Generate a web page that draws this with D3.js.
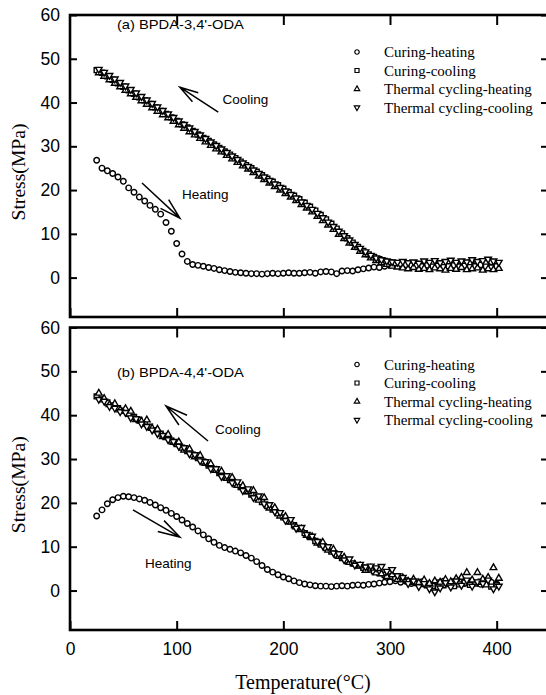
<!DOCTYPE html>
<html>
<head>
<meta charset="utf-8">
<script src="https://cdn.jsdelivr.net/npm/d3@7"></script>
<style>
  body { margin: 0; background: #fff; }
  svg { display: block; }
  .tick text { font-family: "Liberation Sans", Arial, sans-serif; font-size: 17.5px; fill: #000; }
  .tick line { stroke: #000; stroke-width: 2; }
  .note { font-family: "Liberation Sans", Arial, sans-serif; font-size: 13.5px; }
  .legend text { font-family: "Liberation Serif", "Times New Roman", serif; font-size: 15px; }
  .title { font-family: "Liberation Serif", "Times New Roman", serif; }
</style>
</head>
<body>
<svg id="chart" width="546" height="695"></svg>
<script>
// temperatures (°C) of the circle / square series
const tempsA = [25, 30, 35, 40, 45, 50, 55, 60, 65, 70, 75, 80, 85, 90, 95, 100, 105, 110, 115, 120,
  125, 130, 135, 140, 145, 150, 155, 160, 165, 170, 175, 180, 185, 190, 195, 200, 205, 210, 215, 220,
  225, 230, 235, 240, 245, 250, 255, 260, 265, 270, 275, 280, 285, 290, 295, 300, 305, 310, 315, 320,
  325, 330, 335, 340, 345, 350, 355, 360, 365, 370, 375, 380, 385, 390, 395, 400];
// temperatures (°C) of the thermal cycling series
const tempsB = [27, 32, 37, 42, 47, 52, 57, 62, 67, 72, 77, 82, 87, 92, 97, 102, 107, 112, 117, 122,
  127, 132, 137, 142, 147, 152, 157, 162, 167, 172, 177, 182, 187, 192, 197, 202, 207, 212, 217, 222,
  227, 232, 237, 242, 247, 252, 257, 262, 267, 272, 277, 282, 287, 292, 297, 302, 307, 312, 317, 322,
  327, 332, 337, 342, 347, 352, 357, 362, 367, 372, 377, 382, 387, 392, 397, 402];

// (a) BPDA-3,4'-ODA  stress (MPa)
const aCuringHeating = [26.8, 25.0, 24.4, 23.8, 23.0, 22.0, 20.5, 19.5, 18.4, 17.5, 16.5, 15.6, 14.5, 12.6, 10.6, 7.8, 5.4, 3.7, 3.0, 2.8,
  2.6, 2.3, 2.1, 1.8, 1.6, 1.4, 1.2, 1.1, 1.0, 0.9, 0.9, 0.8, 0.9, 1.0, 0.9, 1.0, 1.1, 1.0, 1.0, 1.1,
  1.2, 1.0, 1.3, 1.4, 1.3, 0.9, 1.5, 1.6, 1.5, 1.8, 2.0, 2.2, 2.4, 2.3, 2.6, 2.8, 3.0, 3.1, 3.0, 2.9,
  3.2, 2.8, 3.0, 3.3, 2.9, 3.1, 3.4, 3.0, 2.7, 3.2, 3.5, 3.0, 2.9, 3.3, 3.6, 3.1];
const aCuringCooling = [47.4, 46.8, 46.0, 45.2, 44.4, 43.6, 42.8, 42.0, 41.2, 40.5, 39.7, 38.9, 38.1, 37.4, 36.6, 35.8, 35.0, 34.3, 33.5, 32.7,
  31.9, 31.2, 30.4, 29.6, 28.8, 28.1, 27.3, 26.5, 25.7, 25.0, 24.2, 23.4, 22.6, 21.9, 21.1, 20.3, 19.5, 18.7, 17.9, 17.1,
  16.2, 15.3, 14.3, 13.3, 12.3, 11.2, 10.1, 9.0, 8.0, 7.0, 6.1, 5.3, 4.7, 4.2, 3.8, 3.5, 3.3, 3.1, 2.9, 2.8,
  2.7, 2.6, 2.8, 2.5, 2.7, 2.4, 2.6, 2.8, 2.5, 2.7, 2.4, 2.6, 2.9, 2.5, 2.3, 2.6];
const aCyclingHeating = [46.8, 46.0, 45.2, 44.4, 43.6, 42.8, 42.0, 41.2, 40.4, 39.6, 38.8, 38.0, 37.2, 36.5, 35.7, 34.9, 34.1, 33.3, 32.6, 31.8,
  31.0, 30.2, 29.4, 28.7, 27.9, 27.1, 26.3, 25.5, 24.8, 24.0, 23.2, 22.4, 21.6, 20.8, 20.0, 19.2, 18.4, 17.6, 16.7, 15.9,
  15.0, 14.0, 13.0, 12.0, 11.0, 9.9, 8.9, 7.9, 6.9, 6.0, 5.2, 4.5, 3.9, 3.4, 3.0, 2.6, 2.4, 2.2, 2.0, 2.3,
  1.9, 2.1, 1.8, 2.2, 2.0, 1.7, 2.1, 1.9, 2.3, 1.8, 2.0, 2.2, 1.7, 2.0, 1.8, 2.1];
const aCyclingCooling = [47.6, 46.9, 46.2, 45.4, 44.6, 43.8, 43.0, 42.2, 41.4, 40.6, 39.8, 39.0, 38.2, 37.4, 36.6, 35.8, 35.0, 34.2, 33.4, 32.6,
  31.8, 31.0, 30.2, 29.4, 28.6, 27.8, 27.0, 26.2, 25.4, 24.6, 23.8, 23.0, 22.2, 21.4, 20.6, 19.8, 19.0, 18.2, 17.3, 16.5,
  15.6, 14.7, 13.7, 12.7, 11.7, 10.6, 9.6, 8.6, 7.6, 6.7, 5.9, 5.1, 4.5, 4.1, 3.8, 3.6, 3.5, 3.7, 3.4, 3.6,
  3.3, 3.8, 3.5, 3.9, 3.4, 3.7, 4.0, 3.5, 3.8, 3.6, 4.1, 3.7, 3.9, 4.2, 3.8, 3.5];

// (b) BPDA-4,4'-ODA  stress (MPa)
const bCuringHeating = [17.0, 18.4, 19.8, 20.7, 21.2, 21.5, 21.4, 21.2, 20.9, 20.6, 20.1, 19.5, 18.9, 18.3, 17.6, 16.9, 16.1, 15.3, 14.5, 13.6,
  12.7, 11.8, 11.0, 10.3, 9.8, 9.4, 9.0, 8.6, 8.0, 7.4, 6.6, 5.7, 4.8, 4.2, 3.6, 3.1, 2.7, 2.2, 1.8, 1.5,
  1.3, 1.1, 1.0, 1.0, 0.9, 1.0, 1.1, 1.0, 1.2, 1.3, 1.2, 1.4, 1.5, 1.7, 1.9, 2.0, 2.2, 1.9, 2.1, 1.6,
  1.8, 2.0, 1.5, 1.3, 1.8, 2.1, 1.7, 1.9, 2.3, 1.6, 2.0, 1.8, 1.4, 2.2, 1.9, 1.5];
const bCuringCooling = [44.3, 43.6, 42.9, 42.2, 41.6, 41.0, 40.3, 39.6, 38.9, 38.1, 37.4, 36.6, 35.8, 35.0, 34.2, 33.4, 32.6, 31.8, 31.0, 30.2,
  29.4, 28.5, 27.6, 26.8, 26.0, 25.2, 24.4, 23.6, 22.7, 21.9, 21.1, 20.2, 19.3, 18.5, 17.6, 16.7, 15.8, 14.9, 14.0, 13.1,
  12.2, 11.3, 10.5, 9.7, 8.9, 8.1, 7.4, 6.8, 6.2, 5.7, 5.2, 4.8, 4.4, 4.0, 3.6, 3.2, 2.9, 2.6, 2.3, 2.0,
  1.7, 1.5, 1.2, 1.0, 0.8, 1.2, 1.5, 1.0, 1.4, 1.8, 1.3, 1.6, 2.0, 1.4, 0.9, 1.2];
const bCyclingHeating = [45.0, 43.8, 42.4, 42.6, 41.2, 41.5, 40.9, 39.0, 38.6, 38.9, 37.0, 36.8, 35.1, 35.6, 33.8, 33.9, 32.0, 32.3, 30.5, 30.8,
  29.0, 28.9, 27.4, 27.2, 25.6, 25.8, 24.0, 23.9, 22.5, 22.8, 20.6, 21.2, 18.8, 18.9, 17.0, 16.9, 15.6, 14.5, 14.0, 12.6,
  12.3, 10.8, 11.0, 9.2, 9.4, 7.8, 7.6, 6.4, 6.0, 5.6, 4.6, 5.1, 4.0, 3.8, 3.2, 3.6, 2.5, 2.9, 2.1, 2.6,
  1.8, 2.4, 1.6, 2.2, 1.9, 2.5, 2.0, 2.7, 3.0, 4.1, 2.4, 4.1, 2.6, 3.0, 5.2, 2.8];
const bCyclingCooling = [43.6, 43.2, 42.0, 41.6, 40.8, 40.6, 39.4, 39.2, 38.0, 37.4, 36.6, 35.8, 35.4, 34.4, 34.0, 32.9, 32.6, 31.2, 31.0, 29.6,
  29.4, 27.8, 27.8, 26.0, 26.2, 24.6, 24.8, 22.8, 23.2, 21.2, 21.6, 19.8, 19.6, 18.0, 17.8, 16.0, 16.2, 14.2, 14.4, 12.8,
  12.4, 11.2, 10.2, 10.0, 8.6, 8.4, 7.0, 7.2, 5.8, 6.0, 5.4, 5.6, 5.2, 5.5, 4.4, 4.8, 3.4, 3.0, 1.6, 2.2,
  0.9, 1.6, 0.4, -0.3, 0.6, 1.8, 0.8, 2.2, 1.2, 2.4, 1.0, 2.0, 1.6, 2.4, 0.4, 1.0];

const seriesNames = ["Curing-heating", "Curing-cooling", "Thermal cycling-heating", "Thermal cycling-cooling"];
const yTicks = [0, 10, 20, 30, 40, 50, 60];
const xTicks = [0, 100, 200, 300, 400];

const panels = [
  {
    title: "(a) BPDA-3,4'-ODA",
    series: [[tempsA, aCuringHeating], [tempsA, aCuringCooling], [tempsB, aCyclingHeating], [tempsB, aCyclingCooling]],
    // annotation anchors in data units [T, stress]
    titleAt: [44, 56.8], coolAt: [143, 39.7], heatAt: [105, 18],
    coolArrow: [[139, 37.8], [103, 43.5]], heatArrow: [[67.5, 21.6], [103, 13.6]]
  },
  {
    title: "(b) BPDA-4,4'-ODA",
    series: [[tempsA, bCuringHeating], [tempsA, bCuringCooling], [tempsB, bCyclingHeating], [tempsB, bCyclingCooling]],
    titleAt: [44, 48.7], coolAt: [136, 35.7], heatAt: [70.3, 5.1],
    coolArrow: [[129.4, 34.1], [90, 42.1]], heatArrow: [[59, 18.4], [103, 12.2]]
  }
];

const svg = d3.select("#chart");
const left = 70, right = 550;
const frames = [{ top: 15, bottom: 317 }, { top: 327.5, bottom: 630 }];

const x = d3.scaleLinear().domain([0, 450]).range([left, right]);

// marker shapes: circle, square, up triangle, down triangle
const shapes = [
  { type: d3.symbolCircle, size: 24, rot: 0 },
  { type: d3.symbolSquare, size: 25, rot: 0 },
  { type: d3.symbolTriangle, size: 19, rot: 0 },
  { type: d3.symbolTriangle, size: 19, rot: 180 }
];

function arrow(g, from, to) {
  const dx = to[0] - from[0], dy = to[1] - from[1];
  const len = Math.hypot(dx, dy);
  const ang = Math.atan2(dy, dx);
  const bl = len * 0.42, spread = 0.28;
  const p = d3.path();
  p.moveTo(from[0], from[1]);
  p.lineTo(to[0], to[1]);
  p.moveTo(to[0] - bl * Math.cos(ang - spread), to[1] - bl * Math.sin(ang - spread));
  p.lineTo(to[0], to[1]);
  p.lineTo(to[0] - bl * Math.cos(ang + spread), to[1] - bl * Math.sin(ang + spread));
  g.append("path").attr("d", p.toString()).attr("fill", "none").attr("stroke", "#000").attr("stroke-width", 1.5);
}

panels.forEach((panel, i) => {
  const { top, bottom } = frames[i];
  const y = d3.scaleLinear().domain([-9, 60]).range([bottom, top]);
  const g = svg.append("g");

  // data points
  panel.series.forEach(([temps, vals], k) => {
    const sh = shapes[k];
    const sym = d3.symbol().type(sh.type).size(sh.size);
    g.append("g")
      .selectAll("path")
      .data(d3.zip(temps, vals))
      .join("path")
      .attr("transform", (d) => `translate(${x(d[0])},${y(d[1])})${sh.rot ? " rotate(180)" : ""}`)
      .attr("d", sym)
      .attr("fill", "#fff")
      .attr("stroke", "#000")
      .attr("stroke-width", 1.4);
  });

  // axes with inward ticks
  g.append("g")
    .attr("transform", `translate(${left},0)`)
    .call(d3.axisLeft(y).tickValues(yTicks).tickSize(-7).tickPadding(10))
    .call((a) => a.select(".domain").remove())
    .attr("font-size", null).attr("font-family", null);
  g.append("g")
    .attr("transform", `translate(${right},0)`)
    .call(d3.axisRight(y).tickValues(yTicks).tickSize(-9).tickFormat(""))
    .call((a) => a.select(".domain").remove());
  g.append("g")
    .attr("transform", `translate(0,${top})`)
    .call(d3.axisTop(x).tickValues(xTicks.slice(1)).tickSize(-10).tickFormat(""))
    .call((a) => a.select(".domain").remove());
  const xb = d3.axisBottom(x).tickValues(xTicks).tickSize(-9).tickPadding(13);
  if (i === 0) xb.tickFormat("");
  g.append("g")
    .attr("transform", `translate(0,${bottom})`)
    .call(xb)
    .call((a) => a.select(".domain").remove())
    .attr("font-size", null).attr("font-family", null);

  // frame
  g.append("rect")
    .attr("x", left).attr("y", top)
    .attr("width", right - left).attr("height", bottom - top)
    .attr("fill", "none").attr("stroke", "#000").attr("stroke-width", 2.6);

  // annotations
  g.append("text").attr("class", "note")
    .attr("x", x(panel.titleAt[0])).attr("y", y(panel.titleAt[1]))
    .attr("textLength", 127).attr("lengthAdjust", "spacingAndGlyphs")
    .text(panel.title);
  g.append("text").attr("class", "note")
    .attr("x", x(panel.coolAt[0])).attr("y", y(panel.coolAt[1]))
    .text("Cooling");
  g.append("text").attr("class", "note")
    .attr("x", x(panel.heatAt[0])).attr("y", y(panel.heatAt[1]))
    .text("Heating");
  arrow(g, panel.coolArrow[0].map((v, j) => (j ? y(v) : x(v))), panel.coolArrow[1].map((v, j) => (j ? y(v) : x(v))));
  arrow(g, panel.heatArrow[0].map((v, j) => (j ? y(v) : x(v))), panel.heatArrow[1].map((v, j) => (j ? y(v) : x(v))));

  // legend
  const lg = g.append("g").attr("class", "legend").attr("transform", `translate(357,${top + 37})`);
  seriesNames.forEach((name, k) => {
    const sh = shapes[k];
    lg.append("path")
      .attr("transform", `translate(0,${k * 18.5})${sh.rot ? " rotate(180)" : ""}`)
      .attr("d", d3.symbol().type(sh.type).size(sh.size * 0.65))
      .attr("fill", "#fff").attr("stroke", "#000").attr("stroke-width", 1.2);
    lg.append("text")
      .attr("x", 27).attr("y", k * 18.5 + 5)
      .text(name);
  });

  // y axis title
  svg.append("text").attr("class", "title")
    .attr("transform", `translate(25,${(top + bottom) / 2 + 6}) rotate(-90)`)
    .attr("text-anchor", "middle")
    .attr("font-size", 19)
    .attr("textLength", 97).attr("lengthAdjust", "spacingAndGlyphs")
    .text("Stress(MPa)");
});

svg.append("text").attr("class", "title")
  .attr("x", 303).attr("y", 689)
  .attr("text-anchor", "middle")
  .attr("font-size", 20)
  .text("Temperature(°C)");
</script>
</body>
</html>
